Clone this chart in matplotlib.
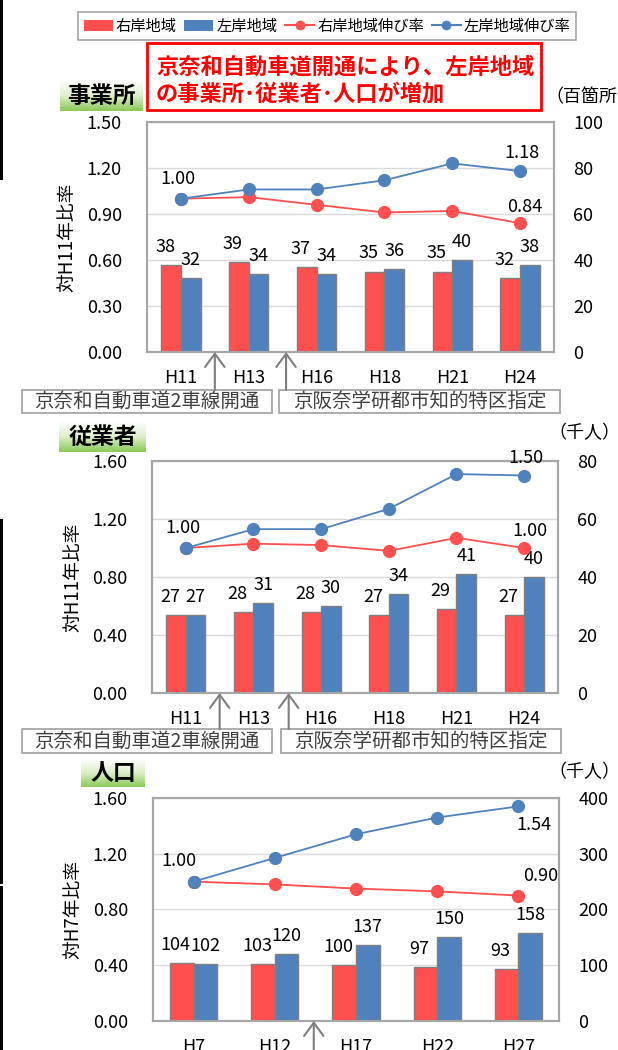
import matplotlib
matplotlib.use('Agg')
import matplotlib.pyplot as plt
import numpy as np
from matplotlib.patches import Patch, Rectangle
from matplotlib.lines import Line2D
from matplotlib.colors import LinearSegmentedColormap

plt.rcParams['font.family'] = ['Noto Sans CJK JP', 'DejaVu Sans']

RED = '#FF4F4F'
BLUE = '#4F81BD'
GRAY = '#A6A6A6'

# 事業所（百箇所）
office_years = ['H11', 'H13', 'H16', 'H18', 'H21', 'H24']
office_right = [38, 39, 37, 35, 35, 32]
office_left = [32, 34, 34, 36, 40, 38]
office_right_rate = [1.00, 1.01, 0.96, 0.91, 0.92, 0.84]
office_left_rate = [1.00, 1.06, 1.06, 1.12, 1.23, 1.18]

# 従業者（千人）
worker_years = ['H11', 'H13', 'H16', 'H18', 'H21', 'H24']
worker_right = [27, 28, 28, 27, 29, 27]
worker_left = [27, 31, 30, 34, 41, 40]
worker_right_rate = [1.00, 1.03, 1.02, 0.98, 1.07, 1.00]
worker_left_rate = [1.00, 1.13, 1.13, 1.27, 1.51, 1.50]

# 人口（千人）
pop_years = ['H7', 'H12', 'H17', 'H22', 'H27']
pop_right = [104, 103, 100, 97, 93]
pop_left = [102, 120, 137, 150, 158]
pop_right_rate = [1.00, 0.98, 0.95, 0.93, 0.90]
pop_left_rate = [1.00, 1.17, 1.34, 1.46, 1.54]

W, H = 618, 1050
fig = plt.figure(figsize=(W / 100, H / 100), dpi=100)


def fx(px):
    return px / W


def fy(py):
    return 1 - py / H


def px_rect(l, t, r, b):
    return [fx(l), fy(b), (r - l) / W, (b - t) / H]


def draw_panel(box, years, right_vals, left_vals, right_rate, left_rate,
               ymax, ystep, rmax, rstep, ylabel, ylabel_x, rate_labels):
    l, t, r, b = box
    ax = fig.add_axes(px_rect(l, t, r, b))
    axb = ax.twinx()
    ax.set_zorder(axb.get_zorder() + 1)
    ax.patch.set_visible(False)

    x = np.arange(len(years))
    w = 0.29
    axb.bar(x - w / 2, right_vals, w, color=RED, edgecolor='#7F7F7F', lw=1, zorder=2)
    axb.bar(x + w / 2, left_vals, w, color=BLUE, edgecolor='#7F7F7F', lw=1, zorder=2)
    for xi, v in zip(x, right_vals):
        axb.annotate(str(v), (xi - w / 2, v), xytext=(-6 * 0.72, 18 * 0.72),
                     textcoords='offset points', ha='center', va='center', fontsize=13)
    for xi, v in zip(x, left_vals):
        axb.annotate(str(v), (xi + w / 2, v), xytext=(0, 18 * 0.72),
                     textcoords='offset points', ha='center', va='center', fontsize=13)

    ax.plot(x, right_rate, color=RED, lw=1.3, marker='o', ms=8.5, zorder=3)
    ax.plot(x, left_rate, color=BLUE, lw=1.3, marker='o', ms=8.5, zorder=4)
    rates = {'r': right_rate, 'l': left_rate}
    for key, i, dx, dy in rate_labels:
        v = rates[key][i]
        ax.annotate(f'{v:.2f}', (x[i], v), xytext=(dx * 0.72, -dy * 0.72),
                    textcoords='offset points', ha='center', va='center', fontsize=13)

    ax.set_xlim(-0.5, len(years) - 0.5)
    ax.set_ylim(0, ymax)
    ax.set_yticks(np.arange(0, ymax + ystep / 2, ystep))
    ax.yaxis.set_major_formatter(matplotlib.ticker.FormatStrFormatter('%.2f'))
    axb.set_ylim(0, rmax)
    axb.set_yticks(np.arange(0, rmax + rstep / 2, rstep))
    ax.set_xticks(x)
    ax.set_xticklabels(years)

    axb.yaxis.grid(True, color='#D9D9D9', lw=1)
    axb.set_axisbelow(True)
    ax.tick_params(axis='y', length=0, labelsize=13, pad=18)
    ax.tick_params(axis='x', length=0, labelsize=13, pad=12)
    axb.tick_params(axis='y', length=0, labelsize=13, pad=14)
    for a in (ax, axb):
        for s in a.spines.values():
            s.set_color(GRAY)
            s.set_linewidth(1.5)

    ax.set_ylabel(ylabel, fontsize=13.5, va='center')
    ax.yaxis.set_label_coords((ylabel_x - l) / (r - l), 0.5)
    return ax


def title_tag(l, t, r, b, text):
    tag = fig.add_axes(px_rect(l, t, r, b))
    cmap = LinearSegmentedColormap.from_list('tag', ['#FFFFFF', '#DDEFCB', '#8DC95A'])
    grad = np.linspace(0, 1, 60).reshape(-1, 1)
    tag.imshow(grad, aspect='auto', cmap=cmap, extent=[0, 1, 0, 1], origin='upper')
    tag.set_axis_off()
    tag.text(0.5, 0.48, text, ha='center', va='center', fontsize=16.5,
             fontweight='bold', transform=tag.transAxes)


def note_box(l, t, r, b, text):
    fig.add_artist(Rectangle((fx(l), fy(b)), (r - l) / W, (b - t) / H,
                             transform=fig.transFigure, facecolor='white',
                             edgecolor=GRAY, lw=1.3))
    fig.text(fx((l + r) / 2), fy((t + b) / 2), text, ha='center', va='center',
             fontsize=14, color='#404040')


def up_arrow(ax, xd, y_from):
    ax.annotate('', xy=(xd, 0), xycoords=('data', 'axes fraction'),
                xytext=(xd, y_from), textcoords=('data', 'figure fraction'),
                arrowprops=dict(arrowstyle='->,head_length=0.95,head_width=0.7',
                                color='#7F7F7F', lw=1.5, shrinkA=0, shrinkB=0),
                annotation_clip=False)


# page edge strips
for y0, y1 in [(0, 178), (520, 882), (887, 1050)]:
    fig.add_artist(Line2D([fx(1.2), fx(1.2)], [fy(y0), fy(y1)], color='black', lw=2.2))

# legend
handles = [Patch(facecolor=RED), Patch(facecolor=BLUE),
           Line2D([], [], color=RED, marker='o', ms=6, lw=1.5),
           Line2D([], [], color=BLUE, marker='o', ms=6, lw=1.5)]
labels = ['右岸地域', '左岸地域', '右岸地域伸び率', '左岸地域伸び率']
leg = fig.legend(handles, labels, loc='center', bbox_to_anchor=(fx(327), fy(26)),
                 ncol=4, fontsize=11, frameon=True, fancybox=False, edgecolor=GRAY,
                 framealpha=1, handlelength=1.9, handletextpad=0.2, columnspacing=0.5,
                 borderpad=0.35, borderaxespad=0)
leg.get_frame().set_linewidth(1.2)

# callout
fig.add_artist(Rectangle((fx(147), fy(110)), (541 - 147) / W, (110 - 43) / H,
                         transform=fig.transFigure, facecolor='white',
                         edgecolor='#FF0000', lw=2))
fig.text(fx(156), fy(67), '京奈和自動車道開通により、左岸地域', fontsize=16,
         fontweight='bold', color='#FF0000', va='center')
fig.text(fx(156), fy(94), 'の事業所･従業者･人口が増加', fontsize=16,
         fontweight='bold', color='#FF0000', va='center')

# 事業所
ax1 = draw_panel((147, 122, 554, 352), office_years, office_right, office_left,
                 office_right_rate, office_left_rate, 1.5, 0.3, 100, 20,
                 '対H11年比率', 67,
                 [('l', 0, -3, -20), ('l', 5, 2, -18), ('r', 5, 5, -16)])
title_tag(60, 80, 143, 111, '事業所')
fig.text(fx(545), fy(97), '（百箇所）', fontsize=13, va='center')
note_box(22, 390, 272, 413, '京奈和自動車道2車線開通')
note_box(279, 390, 560, 413, '京阪奈学研都市知的特区指定')
up_arrow(ax1, 0.5, fy(390))
up_arrow(ax1, 1.55, fy(390))

# 従業者
ax2 = draw_panel((152, 461, 558, 693), worker_years, worker_right, worker_left,
                 worker_right_rate, worker_left_rate, 1.6, 0.4, 80, 20,
                 '対H11年比率', 73,
                 [('l', 0, -3, -20), ('l', 5, 2, -18), ('r', 5, 6, -17)])
title_tag(59, 421, 146, 452, '従業者')
fig.text(fx(548), fy(433), '（千人）', fontsize=13, va='center')
note_box(22, 729, 272, 753, '京奈和自動車道2車線開通')
note_box(281, 729, 561, 753, '京阪奈学研都市知的特区指定')
up_arrow(ax2, 0.5, fy(729))
up_arrow(ax2, 1.52, fy(729))

# 人口
ax3 = draw_panel((153, 798, 559, 1021), pop_years, pop_right, pop_left,
                 pop_right_rate, pop_left_rate, 1.6, 0.4, 400, 100,
                 '対H7年比率', 73,
                 [('l', 0, -15, -21), ('l', 4, 16, 19), ('r', 4, 22, -20)])
title_tag(81, 758, 145, 787, '人口')
fig.text(fx(548), fy(772), '（千人）', fontsize=13, va='center')
up_arrow(ax3, 1.48, -0.01)

fig.savefig('out.png', dpi=100)
